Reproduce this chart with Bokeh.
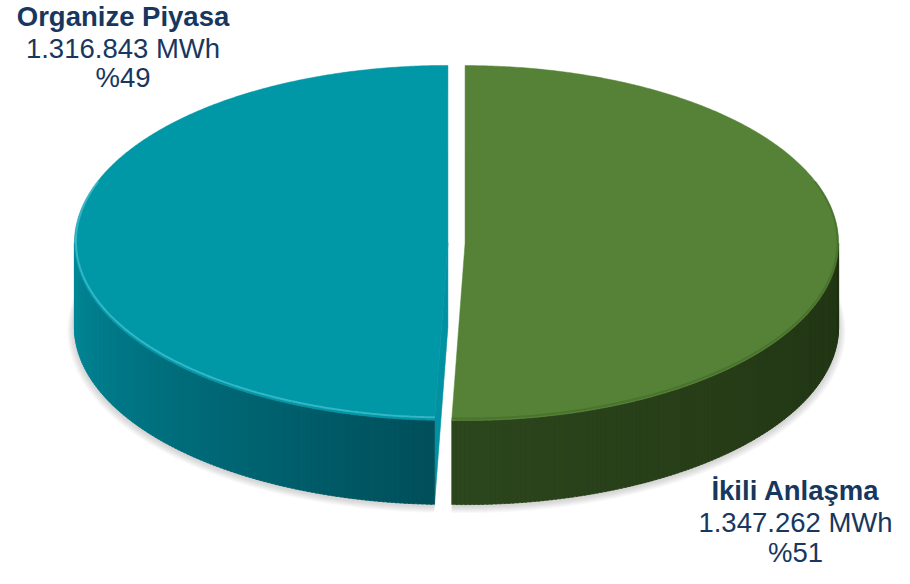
import numpy as np
from bokeh.plotting import figure
from bokeh.models import Range1d
from bokeh.core.properties import value
from bokeh.embed import file_html
from bokeh.resources import INLINE

# ---- data ----
categories = ["Organize Piyasa", "İkili Anlaşma"]
values_mwh = [1316843, 1347262]
percent_labels = ["%49", "%51"]

# ---- style ----
top_colors = ["#0097A7", "#558236"]
side_light = [(0x00, 0x8B, 0x9B), (0x2C, 0x46, 0x1D)]
side_dark = [(0x00, 0x4F, 0x5B), (0x21, 0x34, 0x13)]
cut_colors = ["#0092A2", "#4C7530"]
text_color = "#17375E"

W, H = 894, 568
p = figure(width=W, height=H, x_range=Range1d(0, W), y_range=Range1d(H, 0),
           output_backend="svg", toolbar_location=None, min_border=0,
           x_axis_type=None, y_axis_type=None)
p.grid.visible = False
p.outline_line_color = None
p.background_fill_color = "white"
p.border_fill_color = "white"

# geometry (pixel-like data units)
cx, cy = 456.0, 242.5
a, b = 373.5, 177.5
depth = 84.0
explode = 0.023

total = float(sum(values_mwh))
shares = [v / total for v in values_mwh]
# green (index 1) starts at 12 o'clock going clockwise, teal follows
g0 = 90.0 - 360.0 * shares[1]
ranges = {1: (g0, 90.0), 0: (90.0 - 360.0, g0)}


def rim(t_deg, ox, oy, z=0.0, da=0.0, db=0.0):
    t = np.radians(t_deg)
    return ox + (a + da) * np.cos(t), oy - (b + db) * np.sin(t) + z


slices = []
for i in (0, 1):
    t0, t1 = ranges[i]
    mid = np.radians((t0 + t1) / 2)
    ox = cx + explode * a * np.cos(mid)
    oy = cy - explode * b * np.sin(mid)
    slices.append((i, t0, t1, ox, oy))

# ---- soft shadow ----
for k in range(1, 8):
    xs, ys = [], []
    for i, t0, t1, ox, oy in slices:
        ts = np.linspace(t0, t1, 200)
        rx, ry = rim(ts, ox, oy, depth + 1.5 + 0.4 * k, da=1.0 * k, db=0.6 * k)
        xs.append([ox] + list(rx))
        ys.append([oy + depth + 0.4 * k] + list(ry))
    p.patches(xs, ys, fill_color="#606060", fill_alpha=0.035, line_color=None)

# ---- cut faces (only the visible ones) ----
for i, t0, t1, ox, oy in slices:
    for tb, vis in ((t1, np.cos(np.radians(t1)) < -1e-6), (t0, np.cos(np.radians(t0)) > 1e-6)):
        if vis:
            rx, ry = rim(tb, ox, oy)
            p.patch([ox, rx, rx, ox], [oy, ry, ry + depth, oy + depth],
                    fill_color=cut_colors[i], line_color=cut_colors[i], line_width=0.5)

# ---- side walls (front half), shaded strips ----
for i, t0, t1, ox, oy in slices:
    for shift in (-360.0, 0.0, 360.0):
        lo, hi = max(t0, -180.0 + shift), min(t1, 0.0 + shift)
        if hi <= lo:
            continue
        n = max(2, int((hi - lo) * 1.5))
        edges = np.linspace(lo, hi, n + 1)
        xs, ys, cols = [], [], []
        for j in range(n):
            ta, tb = edges[j], min(edges[j + 1] + 0.3, hi)
            tt = np.linspace(ta, tb, 4)
            rx, ry = rim(tt, ox, oy)
            f = ((ta + tb) / 2 - lo) / (hi - lo)
            c0, c1 = side_light[i], side_dark[i]
            col = "#%02x%02x%02x" % tuple(int(round(c0[m] + (c1[m] - c0[m]) * f)) for m in range(3))
            xs.append(list(rx) + list(rx[::-1]))
            ys.append(list(ry) + list((ry + depth)[::-1]))
            cols.append(col)
        p.patches(xs, ys, fill_color=cols, line_color=cols, line_width=0.6)

# ---- top faces ----
for i, t0, t1, ox, oy in slices:
    ts = np.linspace(t0, t1, 400)
    rx, ry = rim(ts, ox, oy)
    p.patch([ox] + list(rx), [oy] + list(ry), fill_color=top_colors[i],
            line_color=top_colors[i], line_width=0.5)

# bevel highlights along the front rim
i, t0, t1, ox, oy = slices[0]
ts = np.linspace(max(t0, -200.0), t1, 200)
rx, ry = rim(ts, ox, oy, -1.5, da=-1.5, db=-1.5)
p.line(rx, ry, line_color="#5FD0DC", line_width=2, line_alpha=0.55)
i, t0, t1, ox, oy = slices[1]
ts = np.linspace(t0, 20.0, 200)
rx, ry = rim(ts, ox, oy, -1.0, da=-1.0, db=-1.0)
p.line(rx, ry, line_color="#3E6626", line_width=2, line_alpha=0.5)

# ---- labels ----
fmt = [f"{v:,}".replace(",", ".") + " MWh" for v in values_mwh]
label_x = [122.5, 795.0]
font = value("Liberation Sans")
fs = "27.5px"
p.text(x=label_x, y=[16.0, 490.0], text=categories, text_font=font, text_font_size=fs,
       text_font_style="bold", text_color=text_color, text_align="center",
       text_baseline="alphabetic")
p.text(x=label_x, y=[48.0, 522.0], text=fmt, text_font=font, text_font_size=fs,
       text_color=text_color, text_align="center", text_baseline="alphabetic")
p.text(x=label_x, y=[77.0, 552.0], text=percent_labels, text_font=font, text_font_size=fs,
       text_color=text_color, text_align="center", text_baseline="alphabetic")

open("out.html", "w").write(file_html(p, INLINE))
